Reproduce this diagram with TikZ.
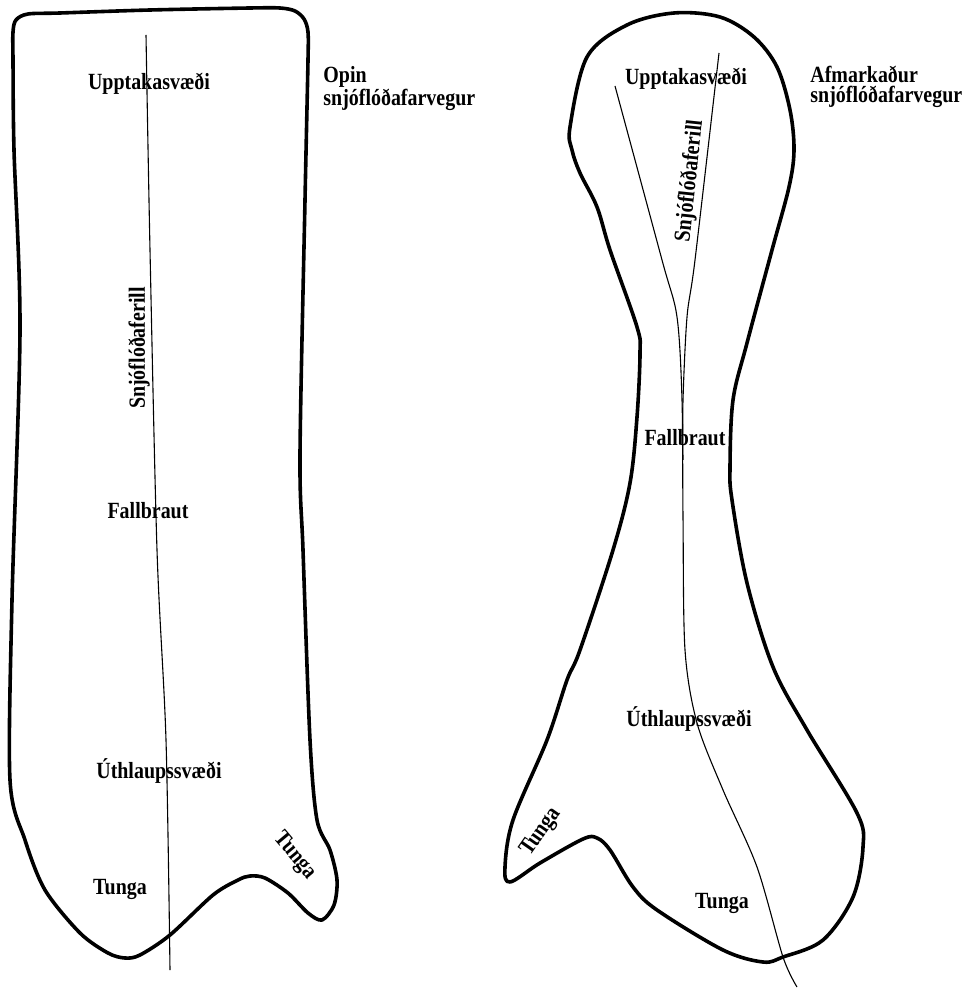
\documentclass[tikz,border=0pt]{standalone}
\usepackage{fontspec}
\setmainfont{Liberation Serif}[FakeStretch=0.86]
\usepackage{tikz}
\usetikzlibrary{positioning}
\definecolor{sink}{HTML}{000000}

\begin{document}
\begin{tikzpicture}[x=0.5pt,y=-0.5pt,
  every node/.style={font=\bfseries\fontsize{11.6}{9.6}\selectfont,text=sink,inner sep=0pt},
  outline/.style={draw=sink,line width=1.8pt,line join=round},
  pathline/.style={draw=sink,line width=0.55pt}]
  \useasboundingbox (0,0) rectangle (974,989);

  % open path (left)
  \draw[outline] plot[smooth cycle,tension=0.5] coordinates {
    (13,32) (16,20) (28,14) (60,13) (150,10) (250,8) (280,8) (295,11) (304,19)
    (308,32) (308,60) (305,200) (300,455) (303,550) (310,740) (317,820) (330,850) (337,880)
    (334,905) (322,920) (308,913) (288,893) (265,878) (250,876) (238,880)
    (213,895) (170,935) (140,955) (125,958) (108,953) (80,933) (45,890)
    (25,840) (10,780) (12,600) (20,330) (14,150) (13,60)};
  \draw[pathline] plot[smooth] coordinates {(146,35) (150,250) (157,550) (166,740) (170,970)};

  \node[anchor=base] (uppL) at (149,90) {Upptakasvæði};
  \node[rotate=90] (ferL) at (139,348) {Snjóflóðaferill};
  \node[anchor=base] (fallL) at (148,518) {Fallbraut};
  \node[anchor=base] (utL) at (159,778) {Úthlaupssvæði};
  \node[anchor=base] (tungaL) at (120,894) {Tunga};
  \node[rotate=-50] (tungaLside) at (295,856) {Tunga};
  \node[anchor=north west,align=left] (titleL) at (323,66) {Opin\\snjóflóðafarvegur};

  % confined path (right)
  \draw[outline] plot[smooth cycle,tension=0.55] coordinates {
    (674,13) (720,17) (754,37) (777,67) (790,110) (794,150) (789,187)
    (772,250) (747,343) (733,400) (730,467) (732,500) (747,583) (773,667)
    (807,730) (857,813) (863,847) (853,897) (823,940) (783,957) (763,962)
    (723,950) (657,910) (633,887) (610,850) (597,838) (583,839) (540,863)
    (510,882) (505,867) (513,820) (547,740) (567,680) (580,650) (613,550)
    (630,483) (637,417) (640,353) (637,327) (610,250) (597,207) (580,173)
    (572,150) (570,127) (587,57) (627,25)};
  \draw[pathline] plot[smooth] coordinates {(615,86) (662,260) (677,317) (682,400)
    (683,517) (685,650) (697,723) (723,790) (757,867) (783,957) (797,987)};
  \draw[pathline] plot[smooth] coordinates {(719,53) (695,260) (687,317) (683,400) (683,460)};

  \node[anchor=base] (uppR) at (686,85) {Upptakasvæði};
  \node[rotate=84] (ferR) at (690,181) {Snjóflóðaferill};
  \node[anchor=base] (fallR) at (685,445) {Fallbraut};
  \node[anchor=base] (utR) at (689,726) {Úthlaupssvæði};
  \node[anchor=base] (tungaR) at (722,908) {Tunga};
  \node[rotate=55] (tungaRside) at (541,832) {Tunga};
  \node[anchor=north west,align=left] (titleR) at (810,66) {Afmarkaður\\snjóflóðafarvegur};
\end{tikzpicture}
\end{document}
